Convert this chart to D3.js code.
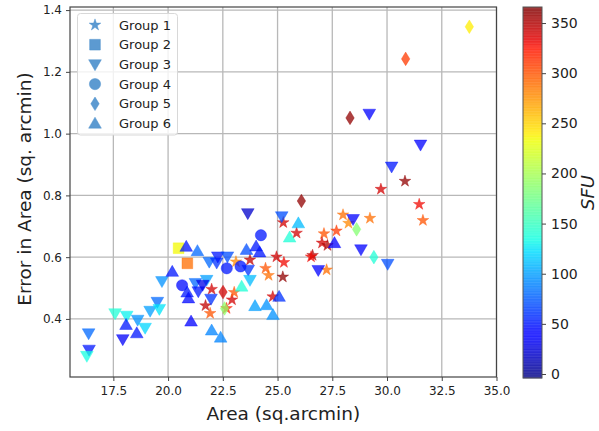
<!DOCTYPE html>
<html>
<head>
<meta charset="utf-8">
<script src="https://cdn.jsdelivr.net/npm/d3@7"></script>
<style>
  html, body { margin: 0; padding: 0; background: #fff; }
  svg { display: block; font-family: "DejaVu Sans", sans-serif; }
</style>
</head>
<body>
<svg id="chart" width="599" height="431"></svg>
<script>
// Each point: [area (sq.arcmin), error in area (sq. arcmin), SFU]
const group1 = [ // stars
  [21.99, 0.496, 340], [21.71, 0.443, 345], [21.92, 0.418, 300], [22.67, 0.434, 320],
  [22.92, 0.462, 340], [23.02, 0.486, 300], [23.74, 0.591, 345], [23.10, 0.585, 280],
  [24.95, 0.601, 340], [25.29, 0.583, 330], [24.45, 0.564, 300], [24.59, 0.541, 290],
  [25.24, 0.536, 360], [24.78, 0.472, 340], [25.26, 0.712, 340], [25.87, 0.678, 340],
  [26.60, 0.606, 350], [26.53, 0.601, 330], [27.12, 0.676, 300], [27.69, 0.685, 310],
  [27.03, 0.646, 340], [27.28, 0.638, 350], [27.99, 0.737, 290], [28.24, 0.710, 280],
  [29.22, 0.726, 290], [27.24, 0.559, 290], [29.72, 0.820, 340], [30.82, 0.846, 360],
  [31.47, 0.771, 330], [31.64, 0.719, 300]
];
const group2 = [ // squares
  [20.48, 0.629, 235], [20.88, 0.580, 290]
];
const group3 = [ // down triangles
  [16.37, 0.353, 80], [16.39, 0.300, 50], [16.29, 0.280, 135], [17.58, 0.418, 140],
  [18.11, 0.410, 130], [17.93, 0.334, 35], [18.61, 0.397, 95], [18.95, 0.371, 120],
  [19.18, 0.426, 100], [19.51, 0.455, 80], [19.60, 0.432, 125], [19.72, 0.522, 95],
  [21.88, 0.585, 80], [22.22, 0.582, 60], [22.27, 0.602, 50], [22.71, 0.602, 70],
  [21.25, 0.516, 80], [21.38, 0.489, 50], [21.76, 0.526, 100], [21.58, 0.510, 30],
  [21.96, 0.465, 60], [23.64, 0.742, 20], [25.19, 0.732, 70], [23.66, 0.559, 60],
  [23.74, 0.526, 110], [26.86, 0.558, 40], [28.45, 0.723, 40], [28.81, 0.625, 40],
  [30.03, 0.578, 70], [29.19, 1.064, 40], [30.21, 0.893, 50], [31.53, 0.964, 40]
];
const group4 = [ // circles
  [20.64, 0.509, 45], [22.68, 0.564, 50], [23.31, 0.570, 50], [24.24, 0.671, 50]
];
const group5 = [ // thin diamonds
  [33.76, 1.346, 240], [30.85, 1.242, 310], [28.31, 1.051, 360], [26.09, 0.782, 360],
  [22.51, 0.487, 340], [22.58, 0.434, 190], [28.61, 0.690, 185], [29.40, 0.600, 140]
];
const group6 = [ // up triangles
  [18.08, 0.381, 50], [18.57, 0.354, 50], [20.19, 0.553, 50], [20.83, 0.634, 50],
  [21.34, 0.620, 80], [20.87, 0.486, 50], [20.93, 0.467, 45], [21.05, 0.392, 40],
  [21.99, 0.363, 90], [22.40, 0.340, 90], [23.58, 0.624, 70], [23.36, 0.505, 140],
  [24.02, 0.635, 50], [24.18, 0.616, 50], [25.95, 0.710, 110], [25.55, 0.664, 140],
  [25.07, 0.472, 60], [23.97, 0.442, 100], [24.50, 0.445, 95], [24.79, 0.413, 95],
  [27.60, 0.646, 40]
];
const groupNames = ["Group 1", "Group 2", "Group 3", "Group 4", "Group 5", "Group 6"];
const xTicks = [17.5, 20.0, 22.5, 25.0, 27.5, 30.0, 32.5, 35.0];
const yTicks = [0.4, 0.6, 0.8, 1.0, 1.2, 1.4];
const cbTicks = [0, 50, 100, 150, 200, 250, 300, 350];
const sfuRange = [-4, 366];

const svg = d3.select("#chart");
const plot = { left: 70, right: 496.5, top: 7, bottom: 377 };
const cb = { left: 523, right: 542, top: 7, bottom: 378 };

const x = d3.scaleLinear().domain([15.52, 35]).range([plot.left, plot.right]);
const y = d3.scaleLinear().domain([0.212, 1.41]).range([plot.bottom, plot.top]);

// matplotlib "jet" colormap, piecewise linear per channel
function jet(t) {
  t = Math.max(0, Math.min(1, t));
  const seg = (pts) => {
    for (let i = 1; i < pts.length; i++) {
      if (t <= pts[i][0]) {
        const [t0, v0] = pts[i - 1], [t1, v1] = pts[i];
        return v0 + (v1 - v0) * (t - t0) / (t1 - t0);
      }
    }
    return pts[pts.length - 1][1];
  };
  const r = seg([[0, 0], [0.35, 0], [0.66, 1], [0.89, 1], [1, 0.5]]);
  const g = seg([[0, 0], [0.125, 0], [0.375, 1], [0.64, 1], [0.91, 0], [1, 0]]);
  const b = seg([[0, 0.5], [0.11, 1], [0.34, 1], [0.65, 0], [1, 0]]);
  return d3.rgb(r * 255, g * 255, b * 255).formatHex();
}
const norm = d3.scaleLinear().domain(sfuRange).range([0, 1]);
const color = v => jet(norm(v));

// grid
const grid = svg.append("g");
grid.selectAll(".gx").data(xTicks).join("line")
  .attr("x1", d => x(d)).attr("x2", d => x(d))
  .attr("y1", plot.top).attr("y2", plot.bottom)
  .attr("stroke", "#b8b8b8").attr("stroke-width", 1.3);
grid.selectAll(".gy").data(yTicks).join("line")
  .attr("y1", d => y(d)).attr("y2", d => y(d))
  .attr("x1", plot.left).attr("x2", plot.right)
  .attr("stroke", "#b8b8b8").attr("stroke-width", 1.3);

// marker shapes
const downTri = d3.symbol().type(d3.symbolTriangle).size(70)();
const upTri = d3.symbol().type(d3.symbolTriangle).size(70)();
const star = d3.symbol().type(d3.symbolStar).size(42)();
const square = d3.symbol().type(d3.symbolSquare).size(115)();
const circle = d3.symbol().type(d3.symbolCircle).size(100)();
const thinDiamond = "M0,-6.8L4.2,0L0,6.8L-4.2,0Z";

const groups = [
  { data: group1, path: star, rot: 0 },
  { data: group2, path: square, rot: 0 },
  { data: group3, path: downTri, rot: 180, dy: -1 },
  { data: group4, path: circle, rot: 0 },
  { data: group5, path: thinDiamond, rot: 0 },
  { data: group6, path: upTri, rot: 0, dy: 1 }
];

const markers = svg.append("g");
groups.forEach(g => {
  markers.append("g").selectAll("path").data(g.data).join("path")
    .attr("d", g.path)
    .attr("transform", d => `translate(${x(d[0])},${y(d[1]) + (g.dy || 0)}) rotate(${g.rot})`)
    .attr("fill", d => color(d[2]))
    .attr("stroke", d => color(d[2]))
    .attr("stroke-width", 0.5)
    .attr("fill-opacity", 0.75)
    .attr("stroke-opacity", 0.75);
});

// frame
svg.append("rect")
  .attr("x", plot.left).attr("y", plot.top)
  .attr("width", plot.right - plot.left).attr("height", plot.bottom - plot.top)
  .attr("fill", "none").attr("stroke", "#444").attr("stroke-width", 1.2);

// axes
const xAxis = d3.axisBottom(x).tickValues(xTicks).tickFormat(d3.format(".1f")).tickSize(4).tickPadding(5);
const yAxis = d3.axisLeft(y).tickValues(yTicks).tickFormat(d3.format(".1f")).tickSize(4).tickPadding(4);
const gx = svg.append("g").attr("transform", `translate(0,${plot.bottom})`).call(xAxis);
const gy = svg.append("g").attr("transform", `translate(${plot.left},0)`).call(yAxis);
[gx, gy].forEach(g => {
  g.select(".domain").remove();
  g.selectAll(".tick line").attr("stroke", "#444");
  g.selectAll(".tick text").attr("fill", "#222").attr("font-size", 12)
    .attr("font-family", "DejaVu Sans, sans-serif");
});

svg.append("text")
  .attr("x", (plot.left + plot.right) / 2).attr("y", 420)
  .attr("text-anchor", "middle").attr("font-size", 18.5).attr("fill", "#222")
  .text("Area (sq.arcmin)");
svg.append("text")
  .attr("transform", `translate(31,${(plot.top + plot.bottom) / 2 - 3}) rotate(-90)`)
  .attr("text-anchor", "middle").attr("font-size", 18.5).attr("fill", "#222")
  .text("Error in Area (sq. arcmin)");

// legend
const legend = svg.append("g");
legend.append("rect")
  .attr("x", 77.5).attr("y", 13.5).attr("width", 100).attr("height", 121.5)
  .attr("rx", 3).attr("fill", "#fff").attr("fill-opacity", 0.8)
  .attr("stroke", "#d8d8d8").attr("stroke-width", 1);
const legendColor = "#4a8fcc";
groupNames.forEach((name, i) => {
  const cy = 25 + i * 19.7;
  const g = groups[i];
  legend.append("path")
    .attr("d", g.path)
    .attr("transform", `translate(95,${cy + (g.dy || 0)}) rotate(${g.rot})`)
    .attr("fill", legendColor).attr("fill-opacity", 0.9)
    .attr("stroke", legendColor).attr("stroke-opacity", 0.9).attr("stroke-width", 0.5);
  legend.append("text")
    .attr("x", 119).attr("y", cy).attr("dy", "0.36em")
    .attr("font-size", 13).attr("fill", "#222")
    .text(name);
});

// colorbar
const cbScale = d3.scaleLinear().domain(sfuRange).range([cb.bottom, cb.top]);
const steps = d3.range(0, 256);
const stepH = (cb.bottom - cb.top) / steps.length;
svg.append("g").selectAll("rect").data(steps).join("rect")
  .attr("x", cb.left).attr("width", cb.right - cb.left)
  .attr("y", i => cb.bottom - (i + 1) * stepH)
  .attr("height", stepH + 0.3)
  .attr("fill", i => jet((i + 0.5) / steps.length))
  .attr("fill-opacity", 0.8);
svg.append("rect")
  .attr("x", cb.left).attr("y", cb.top)
  .attr("width", cb.right - cb.left).attr("height", cb.bottom - cb.top)
  .attr("fill", "none").attr("stroke", "#555").attr("stroke-width", 1);
const cbAxis = d3.axisRight(cbScale).tickValues(cbTicks).tickSize(4).tickPadding(5);
const gcb = svg.append("g").attr("transform", `translate(${cb.right},0)`).call(cbAxis);
gcb.select(".domain").remove();
gcb.selectAll(".tick line").attr("stroke", "#444");
gcb.selectAll(".tick text").attr("fill", "#222").attr("font-size", 14)
  .attr("font-family", "DejaVu Sans, sans-serif");
svg.append("text")
  .attr("transform", `translate(594,${(cb.top + cb.bottom) / 2}) rotate(-90)`)
  .attr("text-anchor", "middle").attr("font-size", 18).attr("font-style", "italic")
  .attr("fill", "#222")
  .text("SFU");
</script>
</body>
</html>
